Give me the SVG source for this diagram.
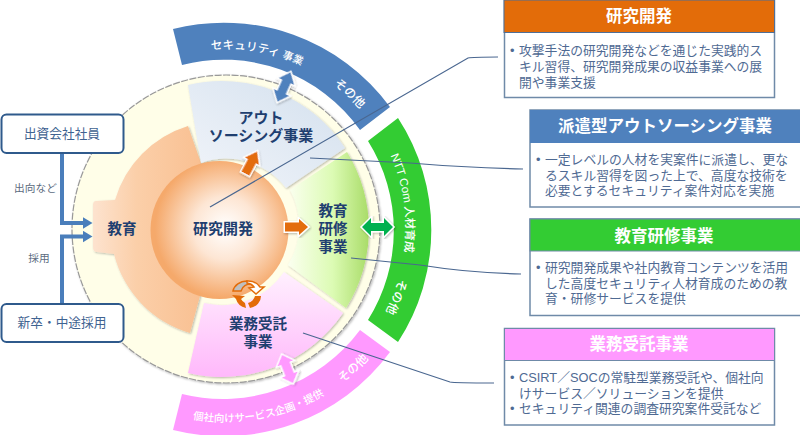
<svg xmlns="http://www.w3.org/2000/svg" width="800" height="435" viewBox="0 0 800 435">
<defs>
<radialGradient id="sph" gradientUnits="userSpaceOnUse" cx="225" cy="228" r="70"><stop offset="0" stop-color="#ffffff"/><stop offset=".45" stop-color="#fde6d4"/><stop offset="1" stop-color="#f5a96b"/></radialGradient>
<linearGradient id="eduG" x1="0" y1="0" x2="1" y2="0"><stop offset="0" stop-color="#fde3cf"/><stop offset=".4" stop-color="#fbcfa9"/><stop offset="1" stop-color="#f9c092"/></linearGradient>
<linearGradient id="outG" x1="0" y1="1" x2="1" y2="0"><stop offset="0" stop-color="#f2f5fa"/><stop offset="1" stop-color="#d3e0ee"/></linearGradient>
<linearGradient id="grnG" x1="0" y1="0" x2="1" y2="0"><stop offset="0" stop-color="#fbfff0"/><stop offset=".55" stop-color="#dcfbb4"/><stop offset="1" stop-color="#a9dc68"/></linearGradient>
<linearGradient id="pnkG" x1="0" y1="0" x2="0" y2="1"><stop offset="0" stop-color="#fff0fe"/><stop offset="1" stop-color="#ffb8fb"/></linearGradient>
<filter id="sh" x="-10%" y="-10%" width="125%" height="125%"><feDropShadow dx="1" dy="1" stdDeviation="1" flood-color="#000" flood-opacity=".28"/></filter>
<marker id="blueHead" markerUnits="userSpaceOnUse" markerWidth="10" markerHeight="12" refX="0.5" refY="6" orient="auto"><path d="M0 0L10 6L0 12Z" fill="#4a7ebb"/></marker>
<path id="pBlue" d="M164.400 59.900A180 180 0 0 1 381.900 139" fill="none"/>
<path id="pGreen" d="M363.900 113.300A180 180 0 0 1 363.900 344.700" fill="none"/>
<path id="pPink" d="M160 410.400A193 193 0 0 0 393 325.500" fill="none"/>
</defs>
<style>
text{font-family:"Liberation Sans","Noto Sans CJK JP",sans-serif}
.lead{fill:none;stroke:#4a6790;stroke-width:1.2}
.nm{font-weight:700;fill:#1f3f70;text-anchor:middle}
.band{fill:#fff;font-size:11.500px;font-weight:500}
.oth{fill:#fff;font-size:12px;font-weight:500}
.hd{fill:#fff;font-size:16.500px;font-weight:700;text-anchor:middle}
.bd{fill:#4f6a93;font-size:12.800px}
.frame{fill:#fff;stroke:#6f8aa8;stroke-width:1.5}
.lbox{fill:#fff;stroke:#2f5a8c;stroke-width:2}
.lt{fill:#3f6391;font-size:12.700px;text-anchor:middle}
.sm{fill:#5c6b80;font-size:10.700px;text-anchor:middle}
.wedge{stroke:none;filter:url(#sh)}
.arw{stroke:#fff;stroke-width:3;paint-order:stroke;filter:url(#sh)}
</style>
<g id="ring"><circle cx="226" cy="229" r="154" fill="#fffee8" stroke="#999" stroke-width="1.2" stroke-dasharray="7 1.5" filter="url(#sh)"/></g>
<g id="band-blue"><path d="M173 29A206 206 0 0 1 390 107L360 130A167 167 0 0 0 182 65Z" fill="#4f81bd"/>
<text class="band"><textPath href="#pBlue" startOffset="48">セキュリティ <tspan font-size="10.500">事業</tspan></textPath></text>
<text class="oth"><textPath href="#pBlue" startOffset="178">その他</textPath></text></g>
<g id="band-green"><path d="M398 118A205 205 0 0 1 398 342L368 320A168 168 0 0 0 368 141Z" fill="#33cc33"/>
<text class="band"><textPath href="#pGreen" startOffset="50">NTT Com 人材育成</textPath></text>
<text class="oth"><textPath href="#pGreen" startOffset="176">その他</textPath></text></g>
<g id="band-pink"><path d="M182 394A171 171 0 0 0 360 330L390 352A207 207 0 0 1 173 430Z" fill="#ff99ff"/>
<text class="band" style="font-size:10.500px"><textPath href="#pPink" startOffset="34">個社向けサービス企画・提供</textPath></text>
<text class="oth"><textPath href="#pPink" startOffset="192">その他</textPath></text></g>
<g id="edu"><path class="wedge" d="M188 126A110 110 0 0 0 115 200L96 201Q93 201 93 205V247Q93 252 97 252L114 254A110 110 0 0 0 190 333L200 296L201 163Z" fill="url(#eduG)"/><text class="nm" x="122" y="234" font-size="14.500">教育</text></g>
<g id="outsourcing"><path class="wedge" d="M188 85A147 147 0 0 1 345 148L286 188A75 75 0 0 0 201 163Z" fill="url(#outG)"/><text class="nm" x="261" y="122.500" font-size="15">アウト</text><text class="nm" x="261" y="141" font-size="15">ソーシング事業</text></g>
<g id="training"><path class="wedge" d="M290 190L347 152A147 147 0 0 1 346 308L288 265A75 75 0 0 0 290 190Z" fill="url(#grnG)"/><text class="nm" x="333" y="216" font-size="14.500">教育</text><text class="nm" x="333" y="234" font-size="14.500">研修</text><text class="nm" x="333" y="252" font-size="14.500">事業</text></g>
<g id="contract"><path class="wedge" d="M284 272L343 313A147 147 0 0 1 188 373L204 303A75 75 0 0 0 284 272Z" fill="url(#pnkG)"/><text class="nm" x="258" y="329" font-size="14.500">業務受託</text><text class="nm" x="258" y="347" font-size="14.500">事業</text></g>
<g id="core"><circle cx="219.500" cy="230" r="69" fill="url(#sph)"/><text class="nm" x="223" y="234" font-size="15">研究開発</text></g>
<g id="connectors">
<path class="lead" d="M210 207L468 58Q472 57 498 57"/>
<path class="lead" d="M310 158L410 163Q470 168 523 169"/>
<path class="lead" d="M351 258L420 265Q470 273 521 274"/>
<path class="lead" d="M303 333L450 382Q454 383 494 383"/>
<path d="M62 153V223H83" fill="none" stroke="#4a7ebb" stroke-width="4" marker-end="url(#blueHead)"/>
<path d="M62 304V236.500H83" fill="none" stroke="#4a7ebb" stroke-width="4" marker-end="url(#blueHead)"/>
<path class="arw" transform="translate(284 87) rotate(24)" d="M0-16L8.500-6H4.500V6H8.500L0 16L-8.500 6H-4.500V-6H-8.500Z" fill="#4f81bd"/>
<path class="arw" transform="translate(251 163) rotate(28)" d="M0-13L8-2H4.500V12H-4.500V-2H-8Z" fill="#e36c09"/>
<path class="arw" d="M285 222.500H299V219L308 227L299 235V231.500H285Z" fill="#e36c09"/>
<path class="arw" d="M362 227L371 218V223H384V218L393 227L384 236V231H371V236Z" fill="#00b050"/>
<path class="arw" transform="translate(287.500 369) rotate(-21)" d="M0-15L8.500-6H4.500V6H8.500L0 15L-8.500 6H-4.500V-6H-8.500Z" fill="#ff99ff"/>
<g id="cycle">
<path d="M233 291A14 12 0 0 1 247 281L252 284A10 10 0 0 0 241 291Z" fill="#bfbfbf" stroke="#e36c09" stroke-width="1.500"/>
<path d="M247 281A14 12 0 0 1 260 287L264 287L256 294L249 288L254 287A10 10 0 0 0 247 283Z" fill="#fff" stroke="#e36c09" stroke-width="1.500"/>
<path d="M232 295L245 296L241 299A10 10 0 0 0 245 303L246 308A14 12 0 0 1 236 299Z" fill="#e36c09"/>
<path d="M250 308A14 12 0 0 0 261 296L255 296A10 10 0 0 1 248 303Z" fill="#e36c09"/></g>
</g>
<g id="src1"><rect class="lbox" x="1.500" y="114.500" width="122" height="38.500" rx="5"/><text class="lt" x="62" y="138">出資会社社員</text></g>
<g id="src2"><rect class="lbox" x="1.500" y="304" width="122" height="38" rx="5"/><text class="lt" x="62" y="327">新卒・中途採用</text></g>
<text class="sm" x="35.500" y="192">出向など</text>
<text class="sm" x="39" y="262">採用</text>
<g id="box1"><rect class="frame" x="504.500" y="0.500" width="270" height="97"/><rect x="504" y="0" width="270.500" height="32.500" fill="#e36c09" stroke="#4f6f98"/><text class="hd" x="639" y="22">研究開発</text>
<text class="bd" x="510" y="55">•</text><text class="bd" x="519" y="55">攻撃手法の研究開発などを通じた実践的ス</text><text class="bd" x="519" y="71">キル習得、研究開発成果の収益事業への展</text><text class="bd" x="519" y="86.500">開や事業支援</text></g>
<g id="box2"><rect class="frame" x="530" y="110" width="271" height="97"/><rect x="530" y="110" width="271" height="33" fill="#4f81bd"/><text class="hd" x="665" y="132">派遣型アウトソーシング事業</text>
<text class="bd" x="536" y="164">•</text><text class="bd" x="545" y="164">一定レベルの人材を実案件に派遣し、更な</text><text class="bd" x="545" y="179.500">るスキル習得を図った上で、高度な技術を</text><text class="bd" x="545" y="195">必要とするセキュリティ案件対応を実施</text></g>
<g id="box3"><rect class="frame" x="530" y="219" width="271" height="96.500"/><rect x="530" y="219" width="271" height="32" fill="#33cc33" stroke="#6f8aa8"/><text class="hd" x="664" y="242">教育研修事業</text>
<text class="bd" x="536" y="272">•</text><text class="bd" x="545" y="272">研究開発成果や社内教育コンテンツを活用</text><text class="bd" x="545" y="287.500">した高度セキュリティ人材育成のための教</text><text class="bd" x="545" y="303">育・研修サービスを提供</text></g>
<g id="box4"><rect class="frame" x="504.500" y="328.500" width="270" height="96.500"/><rect x="504.500" y="328.500" width="270" height="32" fill="#ff99ff" stroke="#6f8aa8"/><text class="hd" x="639" y="350">業務受託事業</text>
<text class="bd" x="510" y="382">•</text><text class="bd" x="519" y="382">CSIRT／SOCの常駐型業務受託や、個社向</text><text class="bd" x="519" y="397.500">けサービス／ソリューションを提供</text><text class="bd" x="510" y="413">•</text><text class="bd" x="519" y="413">セキュリティ関連の調査研究案件受託など</text></g>
</svg>
